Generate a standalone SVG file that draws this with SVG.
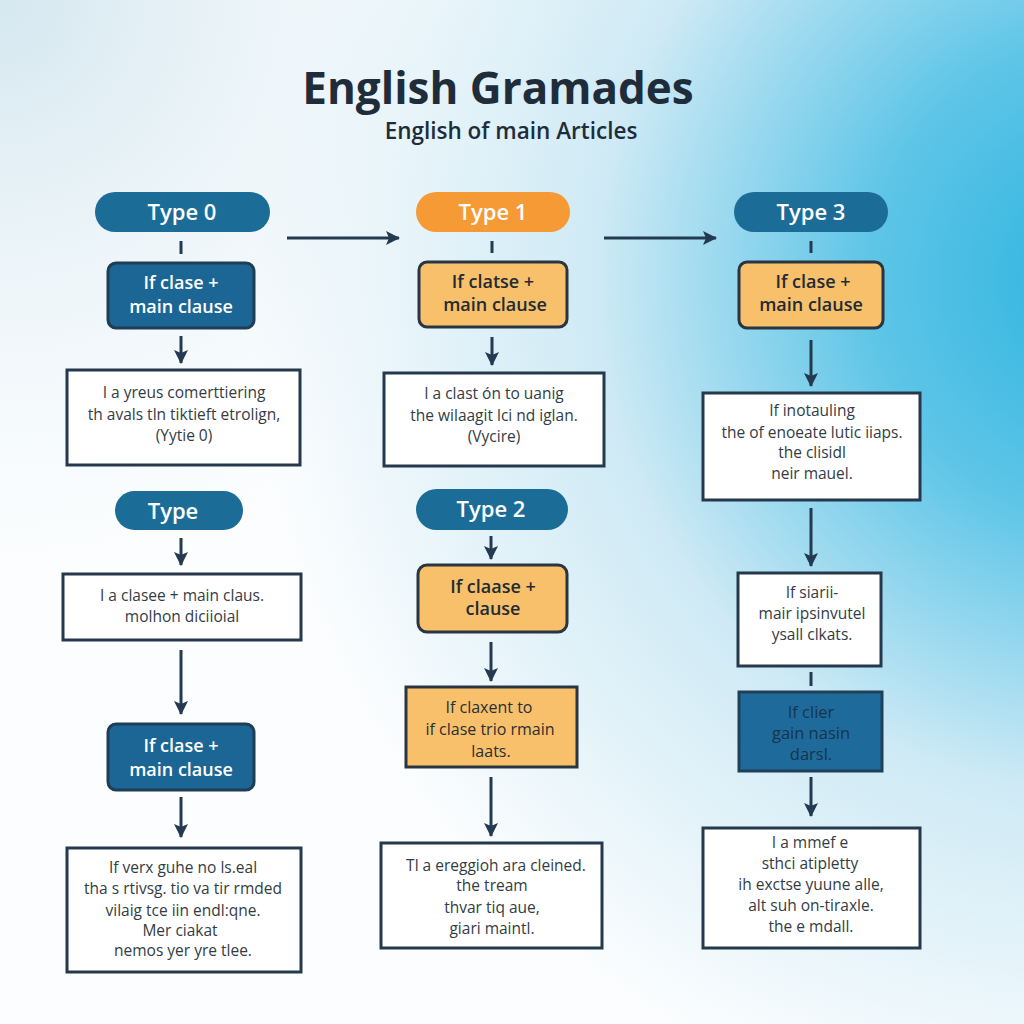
<svg xmlns="http://www.w3.org/2000/svg" width="1024" height="1024" viewBox="0 0 1024 1024">
<defs>
<radialGradient id="bg1" cx="1110" cy="280" r="860" gradientUnits="userSpaceOnUse">
<stop offset="0" stop-color="#2bb3df"/>
<stop offset="0.28" stop-color="#5ec5e7"/>
<stop offset="0.6" stop-color="#cfeaf5"/>
<stop offset="1" stop-color="#fbfdfe"/>
</radialGradient>
<radialGradient id="bg2" cx="0" cy="0" r="560" gradientUnits="userSpaceOnUse">
<stop offset="0" stop-color="#d3e6ef" stop-opacity="0.95"/>
<stop offset="1" stop-color="#e8f3f8" stop-opacity="0"/>
</radialGradient>
<marker id="ah" viewBox="0 0 14 14" refX="13" refY="7" markerWidth="14" markerHeight="14" markerUnits="userSpaceOnUse" orient="auto">
<path d="M0,0 L14,7 L0,14 L3,7 z" fill="#233a50"/>
</marker>
<style>
.pillB{fill:#1b6d98}
.pillO{fill:#f59a35}
.boxB{fill:#1b6694;stroke:#1f3d55;stroke-width:3}
.boxO{fill:#f8c06b;stroke:#2a3542;stroke-width:3}
.boxW{fill:#ffffff;stroke:#25384c;stroke-width:3}
.pt{font-family:"Open Sans","Noto Sans",sans-serif;font-weight:600;font-size:22px;fill:#ffffff;text-anchor:middle}
.lw{font-family:"Open Sans","Noto Sans",sans-serif;font-weight:600;font-size:18px;fill:#ffffff;text-anchor:middle}
.ld{font-family:"Open Sans","Noto Sans",sans-serif;font-weight:600;font-size:18px;fill:#222b33;text-anchor:middle}
.ldb{font-family:"Open Sans","Noto Sans",sans-serif;font-weight:500;font-size:16.5px;fill:#17344d;text-anchor:middle}
.bt{font-family:"Open Sans","Noto Sans",sans-serif;font-weight:400;font-size:15.5px;fill:#333c44;text-anchor:middle}
.bto{font-family:"Open Sans","Noto Sans",sans-serif;font-weight:400;font-size:16px;fill:#2a2f33;text-anchor:middle}
.con{stroke:#233a50;stroke-width:3;fill:none}
</style>
</defs>
<rect x="0" y="0" width="1024" height="1024" fill="url(#bg1)"/>
<rect x="0" y="0" width="1024" height="1024" fill="url(#bg2)"/>

<g id="title">
<text x="498" y="104" font-family="Open Sans, Noto Sans, sans-serif" font-weight="700" font-size="44" fill="#1f2d3b" text-anchor="middle">English Gramades</text>
<text x="511" y="139" font-family="Open Sans, Noto Sans, sans-serif" font-weight="600" font-size="22.5" fill="#1f2d3b" text-anchor="middle">English of main Articles</text>
</g>

<g id="connectors">
<line class="con" x1="287" y1="238" x2="399" y2="238" marker-end="url(#ah)"/>
<line class="con" x1="604" y1="238" x2="716" y2="238" marker-end="url(#ah)"/>
<line class="con" x1="181" y1="241" x2="181" y2="254"/>
<line class="con" x1="181" y1="336" x2="181" y2="363" marker-end="url(#ah)"/>
<line class="con" x1="181" y1="538" x2="181" y2="565" marker-end="url(#ah)"/>
<line class="con" x1="181" y1="650" x2="181" y2="714" marker-end="url(#ah)"/>
<line class="con" x1="181" y1="797" x2="181" y2="837" marker-end="url(#ah)"/>
<line class="con" x1="492" y1="241" x2="492" y2="253"/>
<line class="con" x1="492" y1="337" x2="492" y2="365" marker-end="url(#ah)"/>
<line class="con" x1="491" y1="536" x2="491" y2="559" marker-end="url(#ah)"/>
<line class="con" x1="491" y1="642" x2="491" y2="681" marker-end="url(#ah)"/>
<line class="con" x1="491" y1="777" x2="491" y2="836" marker-end="url(#ah)"/>
<line class="con" x1="811" y1="241" x2="811" y2="253"/>
<line class="con" x1="811" y1="340" x2="811" y2="386" marker-end="url(#ah)"/>
<line class="con" x1="811" y1="508" x2="811" y2="566" marker-end="url(#ah)"/>
<line class="con" x1="811" y1="672" x2="811" y2="686"/>
<line class="con" x1="811" y1="777" x2="811" y2="816" marker-end="url(#ah)"/>
</g>

<g id="type0">
<rect class="pillB" x="95" y="192" width="175" height="40" rx="20"/>
<text class="pt" x="182" y="220">Type 0</text>
</g>
<g id="c1b1">
<rect class="boxB" x="108" y="263" width="146" height="65" rx="8"/>
<text class="lw" x="181" y="289">If clase +</text>
<text class="lw" x="181" y="313">main clause</text>
</g>
<g id="c1w1">
<rect class="boxW" x="67" y="370" width="233" height="95"/>
<text class="bt" x="184" y="398">I a yreus comerttiering</text>
<text class="bt" x="184" y="420">th avals tln tiktieft etrolign,</text>
<text class="bt" x="184" y="441">(Yytie 0)</text>
</g>
<g id="type">
<rect class="pillB" x="115" y="491" width="128" height="39" rx="19.5"/>
<text class="pt" x="173" y="519">Type</text>
</g>
<g id="c1w2">
<rect class="boxW" x="63" y="574" width="238" height="66"/>
<text class="bt" x="182" y="601">I a clasee + main claus.</text>
<text class="bt" x="182" y="622">molhon diciioial</text>
</g>
<g id="c1b2">
<rect class="boxB" x="108" y="724" width="146" height="66" rx="8"/>
<text class="lw" x="181" y="752">If clase +</text>
<text class="lw" x="181" y="776">main clause</text>
</g>
<g id="c1w3">
<rect class="boxW" x="67" y="848" width="234" height="124"/>
<text class="bt" x="183" y="873">If verx guhe no ls.eal</text>
<text class="bt" x="183" y="894">tha s rtivsg. tio va tir rmded</text>
<text class="bt" x="183" y="916">vilaig tce iin endl:qne.</text>
<text class="bt" x="180" y="936">Mer ciakat</text>
<text class="bt" x="183" y="956">nemos yer yre tlee.</text>
</g>

<g id="type1">
<rect class="pillO" x="416" y="192" width="154" height="40" rx="20"/>
<text class="pt" x="493" y="220">Type 1</text>
</g>
<g id="c2o1">
<rect class="boxO" x="419" y="262" width="148" height="65" rx="8"/>
<text class="ld" x="493" y="288">If clatse +</text>
<text class="ld" x="495" y="311">main clause</text>
</g>
<g id="c2w1">
<rect class="boxW" x="384" y="373" width="220" height="93"/>
<text class="bt" x="494" y="399">I a clast ón to uanig</text>
<text class="bt" x="494" y="421">the wilaagit lci nd iglan.</text>
<text class="bt" x="494" y="442">(Vycire)</text>
</g>
<g id="type2">
<rect class="pillB" x="416" y="489" width="152" height="41" rx="20.5"/>
<text class="pt" x="491" y="517">Type 2</text>
</g>
<g id="c2o2">
<rect class="boxO" x="418" y="565" width="149" height="67" rx="9"/>
<text class="ld" x="493" y="593">If claase +</text>
<text class="ld" x="493" y="615">clause</text>
</g>
<g id="c2o3">
<rect class="boxO" x="406" y="687" width="171" height="80"/>
<text class="bto" x="489" y="713">If claxent to</text>
<text class="bto" x="490" y="735">if clase trio rmain</text>
<text class="bto" x="491" y="757">laats.</text>
</g>
<g id="c2w2">
<rect class="boxW" x="381" y="843" width="221" height="105"/>
<text class="bt" x="496" y="871">Tl a ereggioh ara cleined.</text>
<text class="bt" x="492" y="891">the tream</text>
<text class="bt" x="492" y="913">thvar tiq aue,</text>
<text class="bt" x="492" y="934">giari maintl.</text>
</g>

<g id="type3">
<rect class="pillB" x="734" y="192" width="154" height="40" rx="20"/>
<text class="pt" x="811" y="220">Type 3</text>
</g>
<g id="c3o1">
<rect class="boxO" x="739" y="262" width="144" height="66" rx="8"/>
<text class="ld" x="813" y="288">If clase +</text>
<text class="ld" x="811" y="311">main clause</text>
</g>
<g id="c3w1">
<rect class="boxW" x="703" y="393" width="217" height="107"/>
<text class="bt" x="812" y="416">If inotauling</text>
<text class="bt" x="812" y="438">the of enoeate lutic iiaps.</text>
<text class="bt" x="812" y="458">the clisidl</text>
<text class="bt" x="812" y="479">neir mauel.</text>
</g>
<g id="c3w2">
<rect class="boxW" x="738" y="573" width="143" height="93"/>
<text class="bt" x="812" y="598">If siarii-</text>
<text class="bt" x="812" y="619">mair ipsinvutel</text>
<text class="bt" x="812" y="640">ysall clkats.</text>
</g>
<g id="c3b1">
<rect x="739" y="692" width="143" height="79" fill="#1e6b9b" stroke="#1f4058" stroke-width="3"/>
<text class="ldb" x="811" y="718">If clier</text>
<text class="ldb" x="811" y="739">gain nasin</text>
<text class="ldb" x="811" y="760">darsl.</text>
</g>
<g id="c3w3">
<rect class="boxW" x="703" y="828" width="217" height="120"/>
<text class="bt" x="810" y="848">I a mmef e</text>
<text class="bt" x="810" y="869">sthci atipletty</text>
<text class="bt" x="811" y="890">ih exctse yuune alle,</text>
<text class="bt" x="811" y="911">alt suh on-tiraxle.</text>
<text class="bt" x="811" y="932">the e mdall.</text>
</g>
</svg>
